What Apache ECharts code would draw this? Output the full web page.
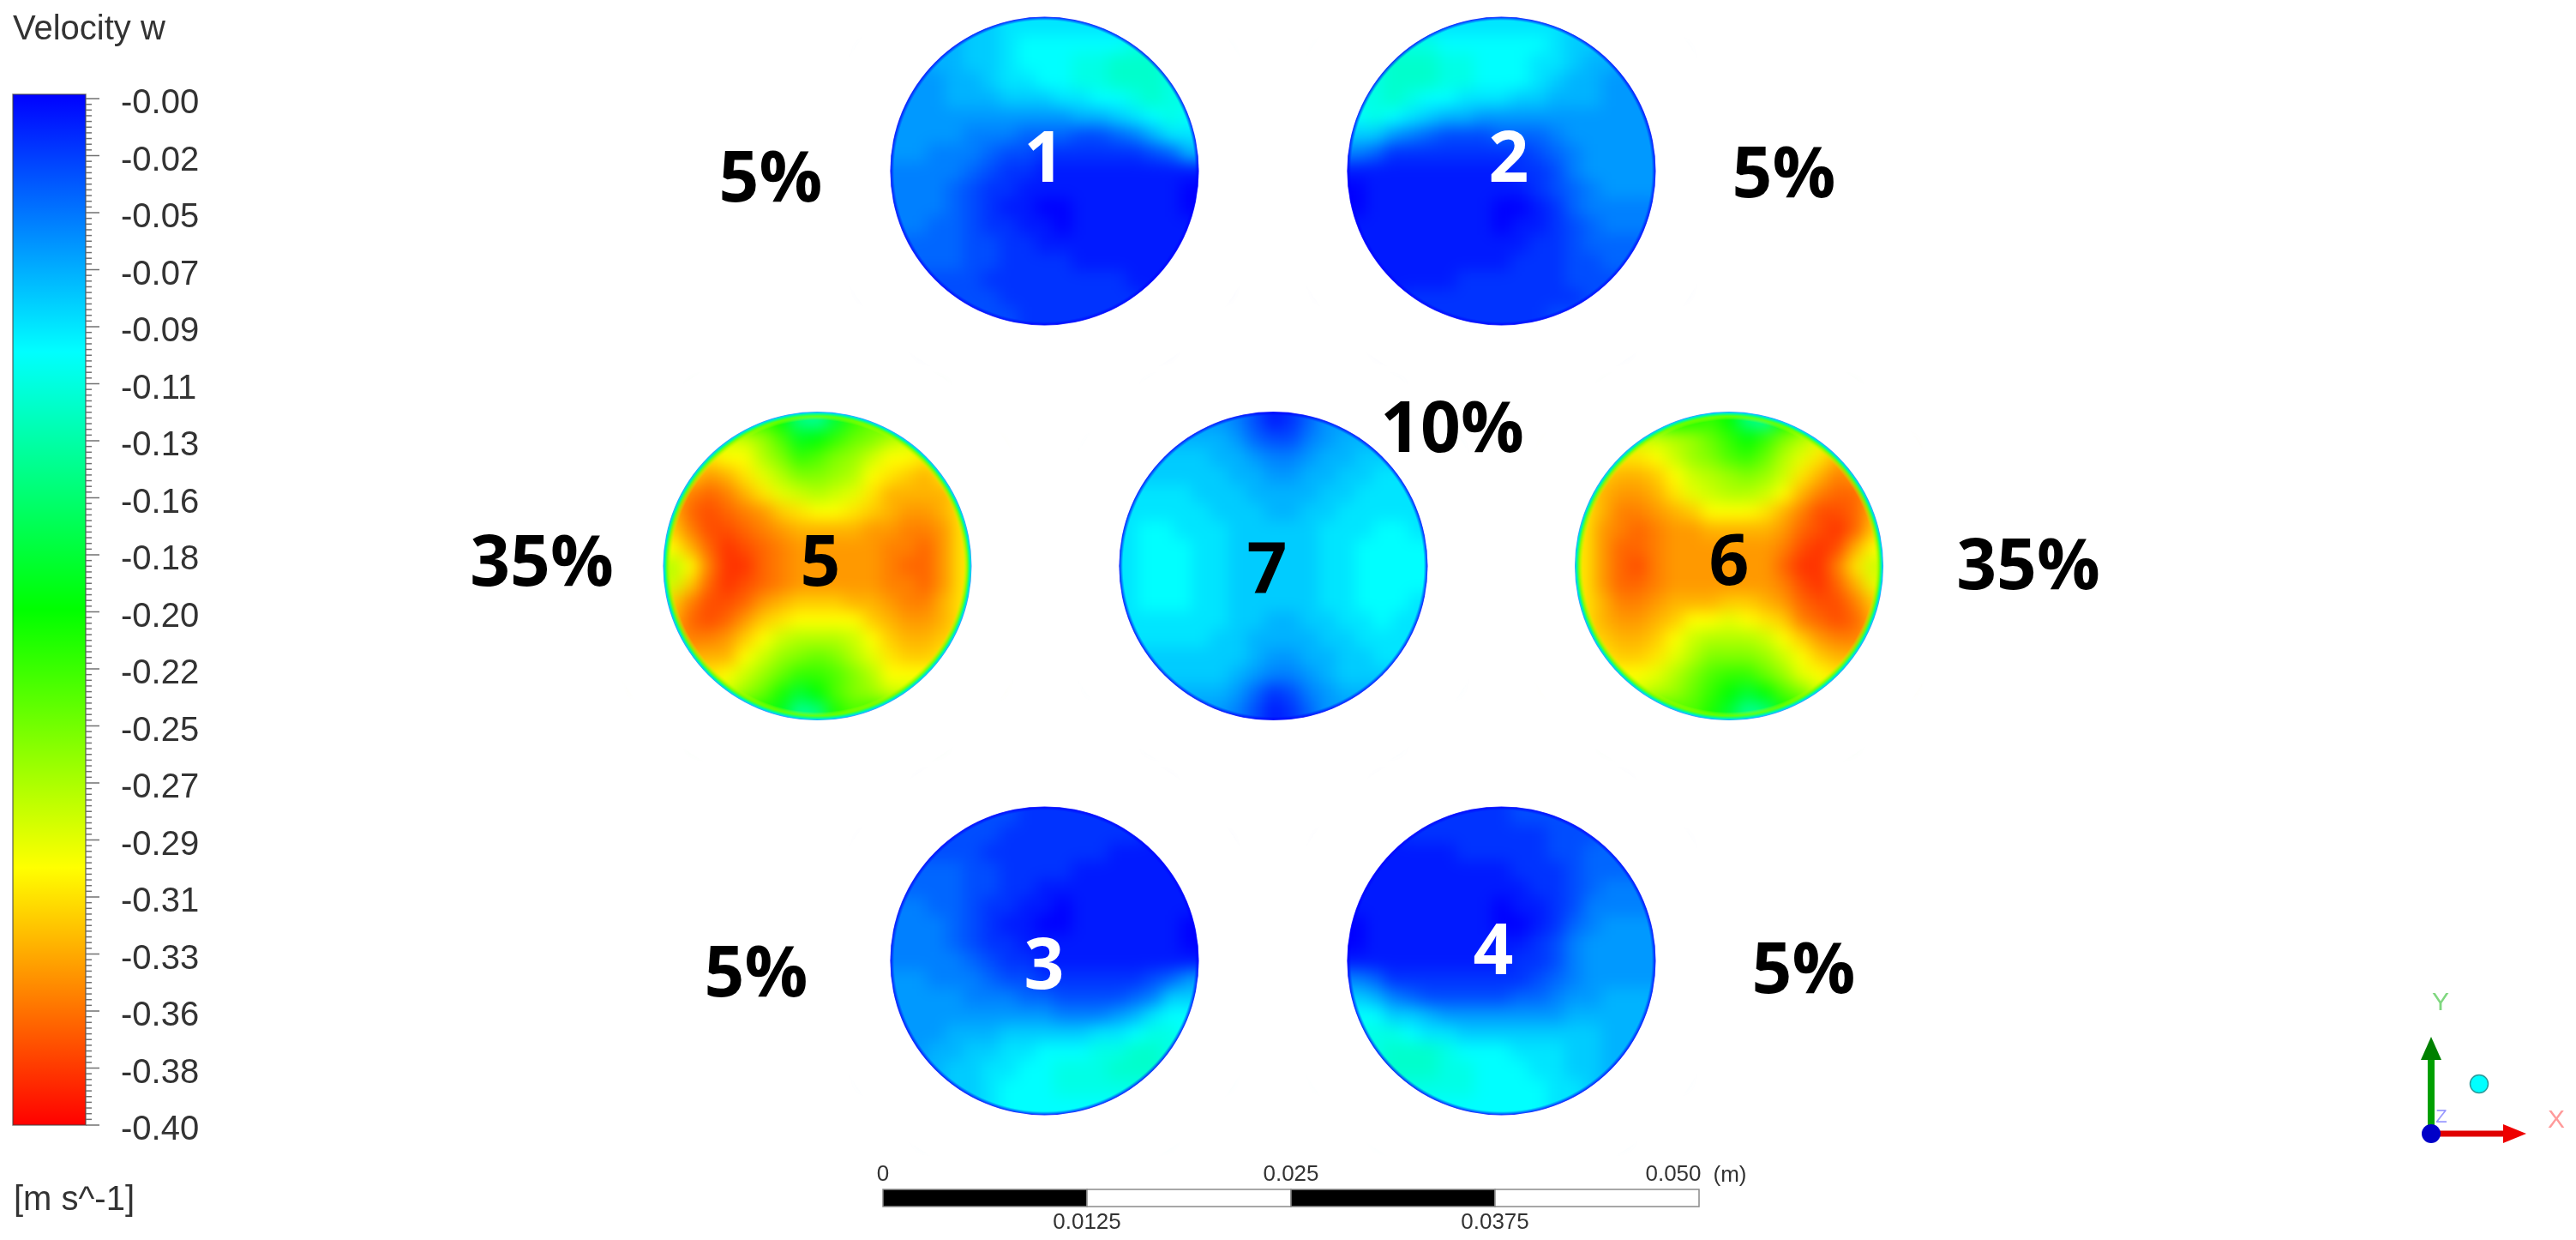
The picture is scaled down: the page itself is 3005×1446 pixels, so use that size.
<!DOCTYPE html>
<html>
<head>
<meta charset="utf-8">
<title>Velocity w</title>
<script src="https://cdn.jsdelivr.net/npm/echarts@6/dist/echarts.min.js"></script>
<style>
  html, body { margin: 0; padding: 0; background: #fff; }
  #heat, #top { position: absolute; left: 0; top: 0; width: 3005px; height: 1446px; }
  /* the contour cells are read on a coarse grid, blur smooths them like the solver's shading */
  #heat { filter: blur(9px); }
</style>
</head>
<body>
<div id="heat"></div>
<div id="top"></div>
<script>
const velocityTicks = ["-0.00","-0.02","-0.05","-0.07","-0.09","-0.11","-0.13","-0.16","-0.18","-0.20",
  "-0.22","-0.25","-0.27","-0.29","-0.31","-0.33","-0.36","-0.38","-0.40"];
const colorRamp = ["#ff0000","#ffff00","#00ff00","#00ffff","#0000ff"]; // -0.40 ... 0

const scaleEdges = [0, 0.0125, 0.025, 0.0375, 0.05];
const scaleTopValues = [0, 0.025, 0.05];
const scaleTopLabels = ["0", "0.025", "0.050"];
const scaleBottomValues = [0.0125, 0.0375];
const scaleBottomLabels = ["0.0125", "0.0375"];

// outlet centres and radius, metres, read against the scale bar
const outletX = [0.0099, 0.03789, 0.0099, 0.03789, -0.00402, 0.05184, 0.02392];
const outletY = [0.06342, 0.06342, 0.01505, 0.01505, 0.03923, 0.03923, 0.03923];
const outletR = 0.00943;

const field1 = [
  [7,7,7,7,8,8,9,9,9,9,9,9,9,9,9,9,9],
  [7,7,7,7,8,8,9,10,10,10,10,10,10,11,11,11,11],
  [6,6,7,7,8,8,9,10,10,10,11,11,12,12,12,11,11],
  [6,6,6,7,7,8,9,9,10,10,11,11,12,12,12,11,11],
  [6,6,6,7,7,7,8,8,8,9,9,10,10,11,12,11,11],
  [6,6,6,6,6,6,6,6,6,6,7,7,8,9,10,11,10],
  [6,6,6,6,5,5,5,4,4,4,3,3,4,5,7,9,9],
  [6,6,5,5,5,4,3,3,2,2,2,2,2,2,3,4,7],
  [5,5,5,5,4,3,2,2,1,1,1,1,1,1,1,1,1],
  [5,5,5,4,3,2,2,1,1,1,1,1,1,1,1,1,0],
  [5,5,5,4,3,2,1,1,0,0,1,1,1,1,1,1,0],
  [5,5,4,4,3,2,2,1,1,0,1,1,1,1,1,1,1],
  [4,4,4,4,3,3,2,2,1,1,1,1,1,1,1,1,1],
  [4,4,4,4,3,3,2,2,2,2,1,1,1,1,1,1,1],
  [3,3,3,3,3,2,2,2,2,2,2,2,2,1,1,1,1],
  [3,3,3,3,3,3,2,2,2,2,2,2,2,2,1,1,1],
  [3,3,3,3,3,3,3,2,2,2,2,2,2,2,2,2,2]
];
const field2 = [
  [9,9,9,9,9,9,9,9,9,9,9,9,8,8,7,7,7],
  [11,11,11,11,11,10,10,10,10,10,10,9,8,8,7,7,7],
  [11,11,12,12,12,11,11,10,10,10,9,9,8,7,7,6,6],
  [11,11,12,12,12,11,11,10,10,10,9,8,7,7,6,6,6],
  [11,11,12,11,10,10,9,9,9,8,8,7,7,7,6,6,6],
  [10,11,10,9,8,7,7,6,6,6,6,6,6,6,6,6,6],
  [8,8,6,5,4,3,3,3,4,4,4,5,6,6,6,6,6],
  [5,4,2,2,2,2,2,2,2,2,3,4,5,6,6,6,6],
  [1,1,1,1,1,1,1,1,1,2,2,3,5,6,6,6,6],
  [0,1,1,1,1,1,1,1,1,1,2,3,4,5,6,6,6],
  [0,1,1,1,1,1,1,1,0,0,1,2,4,5,5,5,5],
  [1,1,1,1,1,1,1,1,0,1,1,2,3,4,5,5,5],
  [1,1,1,1,1,1,1,1,1,1,2,2,3,4,4,4,4],
  [1,1,1,1,1,1,1,1,1,2,2,2,3,3,4,4,4],
  [1,1,1,1,1,1,2,2,2,2,2,2,3,3,3,3,3],
  [1,1,1,2,2,2,2,2,2,2,2,2,2,3,3,3,3],
  [2,2,2,2,2,2,2,2,2,2,2,3,3,3,3,3,3]
];
const field3 = [
  [2,2,2,3,3,3,3,2,2,2,2,2,2,2,2,2,2],
  [3,3,3,3,3,3,2,2,2,2,2,2,2,2,1,1,1],
  [3,3,3,3,3,2,2,2,2,2,2,2,1,1,1,1,1],
  [4,4,4,4,3,3,2,2,2,2,1,1,1,1,1,1,1],
  [4,4,4,4,3,3,2,2,1,1,1,1,1,1,1,1,1],
  [5,5,4,4,3,2,2,1,1,0,1,1,1,1,1,1,1],
  [5,5,5,4,3,2,1,1,0,0,1,1,1,1,1,1,0],
  [5,5,5,4,3,2,2,1,1,1,1,1,1,1,1,1,0],
  [5,5,5,5,4,3,2,2,1,1,1,1,1,1,1,1,1],
  [6,6,5,5,5,4,3,3,2,2,2,2,2,2,3,4,6],
  [6,6,6,6,5,5,5,4,4,3,3,3,3,4,5,8,8],
  [6,6,6,6,6,6,6,6,6,5,5,5,6,7,9,10,10],
  [6,6,6,7,7,7,8,8,8,8,8,9,9,10,11,11,10],
  [6,6,7,7,8,8,9,9,10,10,10,11,11,12,12,11,11],
  [7,7,7,8,8,9,9,10,10,11,11,11,12,12,12,11,11],
  [7,7,7,8,8,9,10,10,10,11,11,11,11,11,11,11,11],
  [7,7,8,8,8,9,10,10,10,10,10,10,10,10,10,10,10]
];
const field4 = [
  [2,2,2,2,2,2,2,2,2,3,3,3,3,3,3,3,3],
  [1,1,1,2,2,2,2,2,2,2,2,3,3,3,4,4,4],
  [1,1,1,1,1,1,2,2,2,2,2,3,3,4,4,4,4],
  [1,1,1,1,1,1,1,1,1,2,2,2,3,4,4,4,4],
  [1,1,1,1,1,1,1,1,1,1,2,2,3,4,5,5,5],
  [1,1,1,1,1,1,1,1,0,1,1,2,3,5,5,5,5],
  [0,1,1,1,1,1,1,1,0,0,1,2,4,5,6,6,6],
  [0,1,1,1,1,1,1,1,1,1,2,3,5,6,6,6,6],
  [1,1,1,1,1,1,1,1,1,2,2,3,5,6,6,6,6],
  [5,4,2,2,2,2,2,2,2,2,3,4,5,6,6,6,6],
  [8,7,5,4,3,3,3,3,3,4,4,5,6,6,7,7,7],
  [10,10,8,8,7,6,6,6,6,6,6,6,7,7,7,7,7],
  [11,11,11,10,9,9,8,8,8,8,8,8,8,8,7,7,7],
  [11,11,12,12,12,11,10,10,10,9,9,9,8,8,7,7,7],
  [11,11,12,12,12,11,11,10,10,10,9,9,8,8,7,7,7],
  [11,11,11,11,11,11,11,10,10,10,10,9,9,8,7,7,7],
  [10,10,10,10,10,10,10,10,10,10,10,9,9,8,8,7,7]
];
const field5 = [
  [18,18,18,18,20,22,20,15,14,18,22,24,22,20,18,18,18],
  [28,28,28,28,28,26,23,19,20,22,24,25,27,28,28,28,28],
  [30,30,31,30,30,27,25,22,23,25,26,28,30,30,31,30,30],
  [32,32,34,33,31,29,27,25,25,26,27,30,31,32,33,31,30],
  [33,35,36,35,33,31,29,28,27,28,29,31,33,33,33,33,31],
  [33,36,37,36,35,34,32,31,30,30,31,32,33,34,34,33,31],
  [32,35,37,37,36,35,34,33,33,33,33,34,34,35,35,34,31],
  [30,33,36,38,37,36,35,34,34,34,34,34,35,35,36,34,31],
  [27,30,35,38,38,36,35,34,34,34,34,34,35,36,36,34,31],
  [28,32,36,38,37,36,35,34,34,34,34,34,35,35,36,34,31],
  [32,35,37,37,36,34,33,32,32,32,33,33,34,35,35,33,31],
  [33,36,37,36,34,32,31,30,30,30,30,32,33,34,34,33,31],
  [34,35,35,34,32,30,28,27,27,27,28,30,32,33,33,32,31],
  [33,33,33,33,30,28,26,25,24,25,27,29,31,32,32,31,30],
  [31,31,31,30,28,26,24,22,22,23,25,27,30,30,30,29,29],
  [28,28,28,28,26,24,21,18,20,23,25,26,28,28,28,28,28],
  [20,20,20,20,21,21,19,14,15,21,23,22,21,20,20,20,20]
];
const field6 = [
  [18,18,18,18,18,20,21,22,20,15,14,20,22,20,18,18,18],
  [28,28,28,28,28,27,26,24,22,20,22,25,27,29,29,29,29],
  [30,30,31,31,30,28,26,25,23,22,24,27,29,31,33,33,33],
  [32,32,33,33,32,30,28,27,26,25,26,28,31,33,35,34,33],
  [31,33,34,34,33,31,29,28,27,27,28,30,33,35,36,36,33],
  [31,33,35,35,34,33,32,30,30,30,31,33,35,37,37,36,33],
  [31,34,35,36,35,34,34,33,33,33,33,34,36,37,38,36,32],
  [31,34,36,36,35,34,34,34,34,34,34,35,37,38,37,33,30],
  [31,34,36,37,35,34,34,34,34,34,34,36,38,38,35,31,28],
  [31,34,36,36,35,34,34,34,34,34,34,35,37,38,36,33,29],
  [31,33,35,35,34,33,33,33,32,32,33,34,36,37,37,35,32],
  [31,33,34,34,33,32,30,30,29,30,31,32,35,36,37,36,33],
  [31,32,33,33,32,30,28,27,27,27,28,30,32,34,35,35,33],
  [31,31,32,32,31,29,27,25,25,25,26,28,30,32,33,33,32],
  [30,30,30,30,29,27,25,23,22,22,24,26,29,30,31,31,31],
  [28,28,28,28,27,26,24,22,20,18,20,23,25,28,28,28,28],
  [20,20,20,20,21,23,23,21,18,14,15,20,21,21,20,20,20]
];
const field7 = [
  [6,6,6,6,6,6,5,3,1,2,4,6,6,6,6,6,6],
  [7,7,7,7,7,7,6,4,3,3,5,6,7,7,7,7,7],
  [8,8,8,8,8,7,7,6,5,5,6,7,7,8,8,8,8],
  [8,8,8,8,8,8,7,7,6,6,7,7,8,8,9,9,9],
  [9,9,9,9,8,8,8,7,7,7,7,8,8,9,9,9,9],
  [9,9,9,9,9,8,8,8,7,7,8,8,9,9,9,9,9],
  [9,10,10,9,9,9,8,8,8,8,8,9,9,9,10,10,9],
  [9,10,10,10,9,9,8,8,8,8,8,9,9,10,10,10,10],
  [9,10,10,10,9,9,8,8,8,8,8,9,9,10,10,10,10],
  [9,10,10,10,9,9,8,8,8,8,8,9,9,10,10,10,10],
  [9,10,10,10,9,9,8,8,8,8,8,9,9,10,10,10,9],
  [9,9,9,9,9,9,8,8,7,7,8,8,9,9,10,9,9],
  [9,9,9,9,9,8,8,7,7,7,7,8,8,9,9,9,9],
  [8,8,8,8,8,8,8,7,6,6,7,7,8,8,9,9,9],
  [8,8,8,8,8,8,7,6,5,5,6,7,8,8,8,8,8],
  [7,7,7,7,7,7,6,4,2,3,5,6,7,7,7,7,7],
  [6,6,6,6,6,6,5,3,1,2,4,6,6,6,6,6,6]
];
const fields = [field1, field2, field3, field4, field5, field6, field7];

// outlets 5 and 6 (index 4, 5) have the fast core with the green wall layer
const fastOutlets = [4, 5];

const textLabels = [
  ["5%", 899, 212], ["5%", 2081, 207], ["10%", 1694, 504], ["35%", 632, 660],
  ["35%", 2366, 664], ["5%", 882, 1139], ["5%", 2104, 1135]
];
const outletLabels = [
  ["1", 1218, 189, "#fff"], ["2", 1760, 189, "#fff"], ["3", 1218, 1130, "#fff"], ["4", 1742, 1113, "#fff"],
  ["5", 957, 660, "#000"], ["6", 2017, 659, "#000"], ["7", 1478, 669, "#000"]
];

const LEGEND_FONT = '"Liberation Sans", Arial, sans-serif';
const BOLD_FONT = '"Open Sans", sans-serif';

// one metric grid, 0..0.05 m is exactly the scale bar
const metricGrid = { left: 1030, top: 455, width: 952, height: 952 };
const metricX = { type: "value", min: 0, max: 0.05, show: false };
const metricY = { type: "value", min: 0, max: 0.05, show: false };

const step = (2 * outletR) / 17;
const heatCells = [];
fields.forEach((rows, k) => {
  rows.forEach((row, r) => {
    row.forEach((v, c) => {
      // corner cells far outside the wall are not part of the outlet
      if (Math.hypot(c - 8, r - 8) > 10) return;
      heatCells.push([outletX[k] + (c - 8) * step, outletY[k] + (8 - r) * step, -v / 100, c, r]);
    });
  });
});

function renderCell(params, api) {
  const p = api.coord([api.value(0), api.value(1)]);
  const s = api.size([step, step]);
  const c = api.value(3), r = api.value(4);
  const pad = 26;
  // outer cells run on under the white mask so the blur does not fade at the wall
  let x = p[0] - s[0] / 2, y = p[1] - s[1] / 2, w = s[0] + 1, h = s[1] + 1;
  if (c === 0) { x -= pad; w += pad; }
  if (c === 16) { w += pad; }
  if (r === 0) { y -= pad; h += pad; }
  if (r === 16) { h += pad; }
  return { type: "rect", shape: { x, y, width: w, height: h }, style: { fill: api.visual("color") } };
}

const heatChart = echarts.init(document.getElementById("heat"));
heatChart.setOption({
  animation: false,
  grid: metricGrid,
  xAxis: metricX,
  yAxis: metricY,
  visualMap: {
    show: false,
    type: "continuous",
    dimension: 2,
    min: -0.4,
    max: 0,
    inRange: { color: colorRamp },
  },
  series: [{
    type: "custom",
    coordinateSystem: "cartesian2d",
    encode: { x: 0, y: 1 },
    data: heatCells,
    renderItem: renderCell,
    silent: true,
  }],
});

function renderMask(params, api) {
  const p = api.coord([api.value(0), api.value(1)]);
  const rPx = api.size([outletR, outletR])[0];
  const fast = api.value(2) === 1;
  const rim = fast
    ? [
        { offset: 0, color: "rgba(200,255,0,0)" },
        { offset: 0.945, color: "rgba(200,255,0,0)" },
        { offset: 0.97, color: "rgba(120,255,0,0.8)" },
        { offset: 0.985, color: "#00ff90" },
        { offset: 0.995, color: "#00c8ff" },
        { offset: 1, color: "#6090ff" },
      ]
    : [
        { offset: 0, color: "rgba(0,0,255,0)" },
        { offset: 0.975, color: "rgba(0,0,255,0)" },
        { offset: 1, color: "rgba(0,0,255,0.9)" },
      ];
  return {
    type: "group",
    children: [
      { type: "ring", shape: { cx: p[0], cy: p[1], r: rPx + 84, r0: rPx }, style: { fill: "#fff" } },
      {
        type: "circle",
        shape: { cx: p[0], cy: p[1], r: rPx + 0.5 },
        style: { fill: new echarts.graphic.RadialGradient(0.5, 0.5, 0.5, rim) },
      },
    ],
  };
}

function renderScaleBar(params, api) {
  const i = params.dataIndex;
  const a = api.coord([api.value(0), 0.00105]);
  const b = api.coord([api.value(1), 0]);
  return {
    type: "rect",
    shape: { x: a[0], y: a[1], width: b[0] - a[0], height: b[1] - a[1] },
    style: { fill: i % 2 === 0 ? "#000" : "#fff", stroke: "#8a8a8a", lineWidth: 1.5 },
  };
}

function scaleText(y, labels) {
  return (params, api) => {
    const p = api.coord([api.value(0), y]);
    const label = labels[params.dataIndex];
    return {
      type: "text",
      x: p[0] + (label === "0.050" ? -30 : 0),
      y: p[1],
      style: {
        text: label,
        fill: "#333",
        fontSize: 26,
        fontFamily: LEGEND_FONT,
        align: "center",
        verticalAlign: "middle",
      },
    };
  };
}

function renderColorBar(params, api) {
  const a = api.coord([0, 0]);
  const b = api.coord([1, 18]);
  const stops = colorRamp.map((color, i) => ({ offset: 1 - i / (colorRamp.length - 1), color }));
  return {
    type: "rect",
    shape: { x: a[0], y: a[1] - 5, width: b[0] - a[0], height: b[1] - a[1] + 5 },
    style: {
      fill: new echarts.graphic.LinearGradient(0, 0, 0, 1, stops),
      stroke: "rgba(70,70,70,0.7)",
      lineWidth: 1.5,
    },
  };
}

// ten small divisions between the labelled levels of the colour bar
const barTickLevels = [];
for (let i = 0; i <= 180; i++) barTickLevels.push([i / 10]);

function renderBarTick(params, api) {
  const major = params.dataIndex % 10 === 0;
  const p = api.coord([1, api.value(0)]);
  return {
    type: "line",
    shape: { x1: p[0], y1: p[1], x2: p[0] + (major ? 16 : 7), y2: p[1] },
    style: { stroke: "#707070", lineWidth: 1.5 },
  };
}

const annotations = [];
textLabels.forEach(([text, x, y]) => {
  annotations.push({
    type: "text", x, y, z: 100,
    style: { text, fill: "#000", font: "bold 82px " + BOLD_FONT, align: "center", verticalAlign: "middle" },
  });
});
outletLabels.forEach(([text, x, y, fill]) => {
  annotations.push({
    type: "text", x, y, z: 100,
    style: { text, fill, font: "bold 82px " + BOLD_FONT, align: "center", verticalAlign: "middle" },
  });
});

const legendTextStyle = { fill: "#333", font: "40px " + LEGEND_FONT, verticalAlign: "middle" };
annotations.push(
  { type: "text", x: 15, y: 35, z: 100, style: { ...legendTextStyle, text: "Velocity w" } },
  { type: "text", x: 16, y: 1400, z: 100, style: { ...legendTextStyle, text: "[m s^-1]" } },
  { type: "text", x: 2018, y: 1371, z: 100,
    style: { text: "(m)", fill: "#333", font: "26px " + LEGEND_FONT, align: "center", verticalAlign: "middle" } },
  // triad
  { type: "line", z: 90, shape: { x1: 2836, y1: 1322, x2: 2836, y2: 1234 }, style: { stroke: "#00a000", lineWidth: 8 } },
  { type: "polygon", z: 90, shape: { points: [[2836, 1209], [2848, 1236], [2824, 1236]] }, style: { fill: "#008000" } },
  { type: "line", z: 91, shape: { x1: 2836, y1: 1322, x2: 2922, y2: 1322 }, style: { stroke: "#e00000", lineWidth: 7 } },
  { type: "polygon", z: 91, shape: { points: [[2947, 1322], [2920, 1311], [2920, 1333]] }, style: { fill: "#ee0000" } },
  { type: "circle", z: 92, shape: { cx: 2836, cy: 1322, r: 11 }, style: { fill: "#0000c8" } },
  { type: "circle", z: 92, shape: { cx: 2892, cy: 1264, r: 10.5 }, style: { fill: "#00ffff", stroke: "#2a9a9a", lineWidth: 1.5 } },
  { type: "text", x: 2847, y: 1170, z: 92,
    style: { text: "Y", fill: "#7fd77f", font: "30px " + LEGEND_FONT, align: "center", verticalAlign: "middle" } },
  { type: "text", x: 2982, y: 1307, z: 92,
    style: { text: "X", fill: "#ff9a9a", font: "30px " + LEGEND_FONT, align: "center", verticalAlign: "middle" } },
  { type: "text", x: 2848, y: 1303, z: 89,
    style: { text: "Z", fill: "#9a9aff", font: "22px " + LEGEND_FONT, align: "center", verticalAlign: "middle" } }
);

const topChart = echarts.init(document.getElementById("top"));
topChart.setOption({
  animation: false,
  grid: [metricGrid, { left: 15, top: 115, width: 85, height: 1197 }],
  xAxis: [metricX, { type: "value", gridIndex: 1, min: 0, max: 1, show: false }],
  yAxis: [
    metricY,
    {
      type: "value",
      gridIndex: 1,
      min: 0,
      max: 18,
      interval: 1,
      inverse: true,
      position: "right",
      axisLine: { show: false },
      axisTick: { show: false },
      splitLine: { show: false },
      axisLabel: {
        margin: 41,
        verticalAlign: "top",
        lineHeight: 12,
        color: "#333",
        fontSize: 40,
        fontFamily: LEGEND_FONT,
        formatter: (v) => velocityTicks[v],
      },
    },
  ],
  graphic: { elements: annotations },
  series: [
    {
      type: "custom",
      encode: { x: 0, y: 1 },
      data: outletX.map((x, k) => [x, outletY[k], fastOutlets.includes(k) ? 1 : 0]),
      renderItem: renderMask,
      silent: true,
      z: 2,
    },
    {
      type: "custom",
      encode: { x: [0, 1] },
      data: scaleEdges.slice(0, -1).map((e, i) => [e, scaleEdges[i + 1]]),
      renderItem: renderScaleBar,
      silent: true,
      z: 3,
    },
    {
      type: "custom",
      encode: { x: 0 },
      data: scaleTopValues.map((v) => [v]),
      renderItem: scaleText(0.00195, scaleTopLabels),
      silent: true,
      z: 3,
    },
    {
      type: "custom",
      encode: { x: 0 },
      data: scaleBottomValues.map((v) => [v]),
      renderItem: scaleText(-0.00097, scaleBottomLabels),
      silent: true,
      z: 3,
    },
    {
      type: "custom",
      xAxisIndex: 1,
      yAxisIndex: 1,
      encode: { x: 0, y: 1 },
      data: [[0, 0]],
      renderItem: renderColorBar,
      silent: true,
      z: 1,
    },
    {
      type: "custom",
      xAxisIndex: 1,
      yAxisIndex: 1,
      encode: { y: 0 },
      data: barTickLevels,
      renderItem: renderBarTick,
      silent: true,
      z: 3,
    },
  ],
});
</script>
</body>
</html>
